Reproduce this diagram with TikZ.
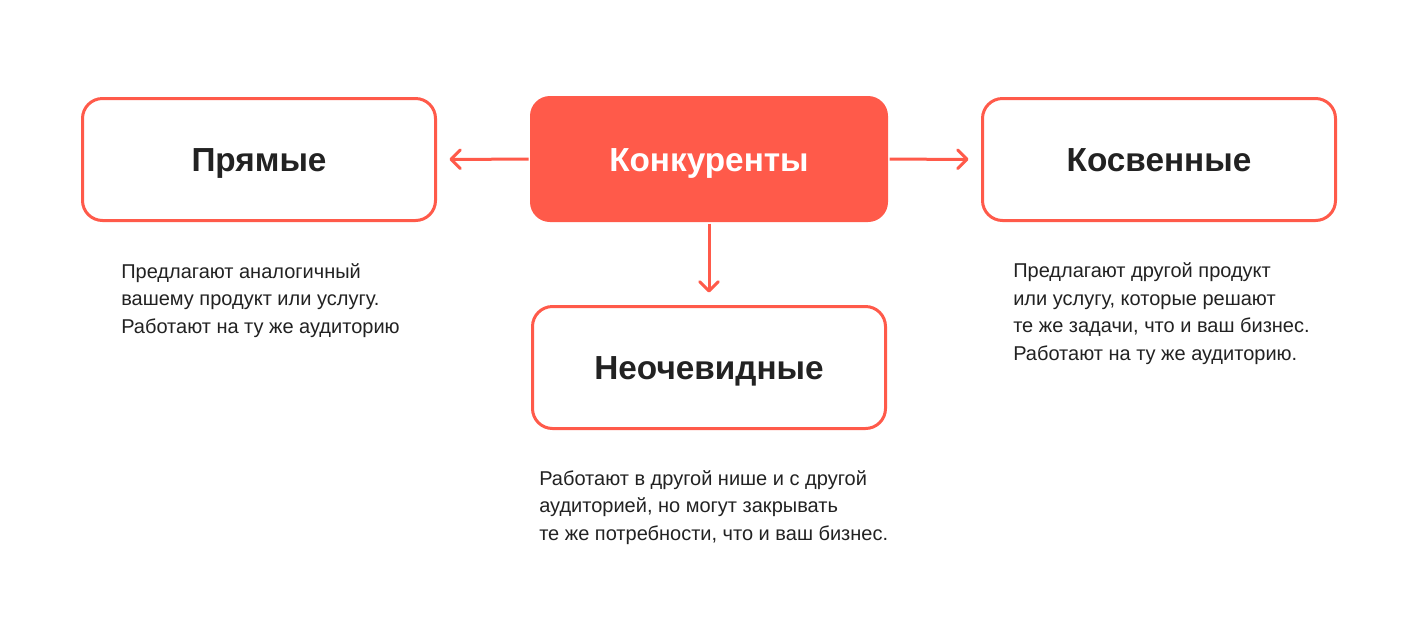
\documentclass[tikz,border=0pt]{standalone}
\usepackage{fontspec}
\setmainfont{Liberation Sans}
\usetikzlibrary{positioning,arrows.meta}
\definecolor{coral}{HTML}{FF5A4A}
\definecolor{ink}{HTML}{222222}
\tikzset{
  box/.style={shape=rectangle,draw=coral,line width=2.25pt,rounded corners=15pt,
    minimum width=264.75pt,minimum height=91.5pt,inner sep=0pt,
    text=ink,font=\fontsize{25}{30}\selectfont\bfseries,
    text height=18pt,text depth=0pt},
  mainbox/.style={box,draw=none,fill=coral,text=white,
    minimum width=268.5pt,minimum height=94.5pt},
  note/.style={align=left,inner sep=0pt,anchor=base west,text=ink,
    font=\fontsize{15}{20.6}\selectfont},
  link/.style={draw=coral,line width=2.25pt,shorten >=9.4pt,
    -{Straight Barb[length=7pt,width=14pt,round]}}
}
\begin{document}
\begin{tikzpicture}[x=0.75pt,y=-0.75pt]
  \useasboundingbox [fill=white] (0,0) rectangle (1418,633);
  \node (konk) [mainbox] at (709,159) {Конкуренты};
  \node (pryam) [box] at (259,159.5) {Прямые};
  \node (kosv) [box] at (1159,159.5) {Косвенные};
  \node (neoch) [box] at (709,367.5) {Неочевидные};
  \draw [link] (konk) -- (pryam);
  \draw [link] (konk) -- (kosv);
  \draw [link] (konk) -- (neoch);
  % base = last line
  \node (pryamtxt) [note] at (121,333) {Предлагают аналогичный\\вашему продукт или услугу.\\Работают на ту же аудиторию};
  \node (kosvtxt) [note] at (1013,360) {Предлагают другой продукт\\или услугу, которые решают\\те же задачи, что и ваш бизнес.\\Работают на ту же аудиторию.};
  \node (neochtxt) [note] at (539,540) {Работают в другой нише и с другой\\аудиторией, но могут закрывать\\те же потребности, что и ваш бизнес.};
\end{tikzpicture}
\end{document}
